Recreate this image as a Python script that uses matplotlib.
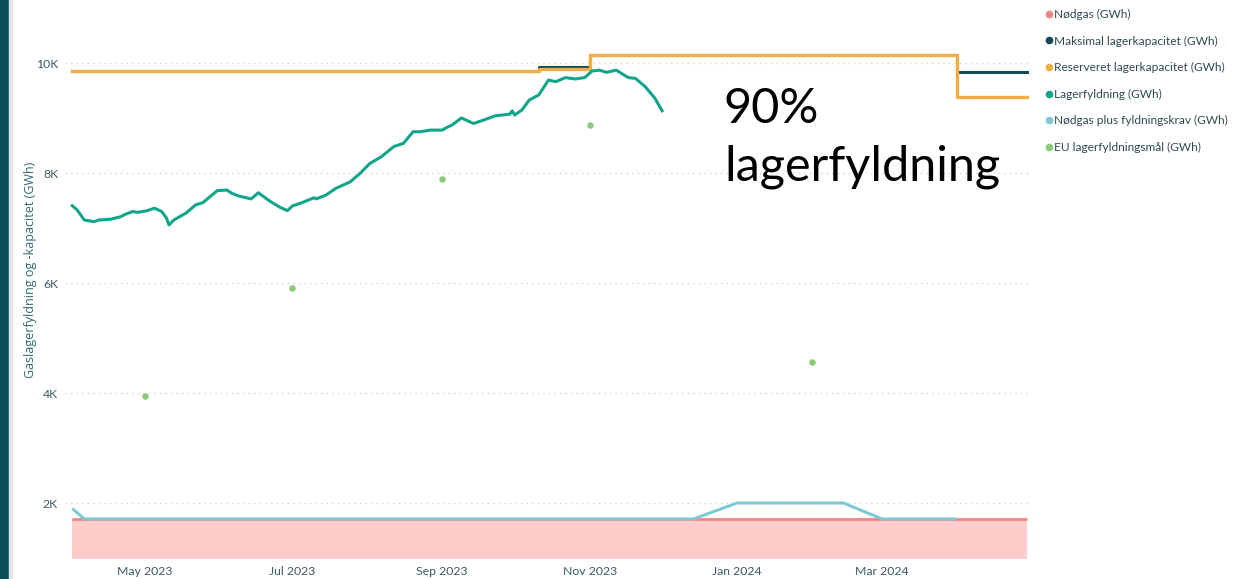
import matplotlib
matplotlib.use("Agg")
import matplotlib.pyplot as plt
import matplotlib.dates as mdates
from matplotlib.lines import Line2D
from matplotlib.patches import Rectangle
from matplotlib.ticker import FuncFormatter
import pandas as pd

# ---------------- data ----------------
fill_dates = ["2023-04-01", "2023-04-03", "2023-04-06", "2023-04-10", "2023-04-12", "2023-04-17",
              "2023-04-21", "2023-04-23", "2023-04-26", "2023-04-28", "2023-05-02", "2023-05-05",
              "2023-05-08", "2023-05-10", "2023-05-11", "2023-05-13", "2023-05-16", "2023-05-18",
              "2023-05-22", "2023-05-25", "2023-05-31", "2023-06-04", "2023-06-06", "2023-06-09",
              "2023-06-14", "2023-06-17", "2023-06-22", "2023-06-26", "2023-06-29", "2023-07-01",
              "2023-07-05", "2023-07-10", "2023-07-11", "2023-07-15", "2023-07-19", "2023-07-25",
              "2023-07-29", "2023-08-02", "2023-08-07", "2023-08-12", "2023-08-16", "2023-08-20",
              "2023-08-23", "2023-08-27", "2023-09-01", "2023-09-03", "2023-09-05", "2023-09-09",
              "2023-09-14", "2023-09-18", "2023-09-23", "2023-09-29", "2023-09-30", "2023-10-01",
              "2023-10-04", "2023-10-07", "2023-10-11", "2023-10-15", "2023-10-18", "2023-10-22",
              "2023-10-26", "2023-10-30", "2023-11-02", "2023-11-05", "2023-11-08", "2023-11-12",
              "2023-11-17", "2023-11-20", "2023-11-24", "2023-11-28", "2023-12-01"]
fill_values = [7405, 7330, 7145, 7115, 7145, 7160,
               7205, 7250, 7300, 7285, 7315, 7360,
               7300, 7180, 7055, 7145, 7220, 7270,
               7420, 7460, 7680, 7690, 7630, 7580,
               7530, 7640, 7480, 7375, 7315, 7400,
               7460, 7550, 7530, 7600, 7720, 7840,
               7990, 8170, 8300, 8480, 8540, 8750,
               8750, 8780, 8780, 8830, 8870, 9000,
               8900, 8960, 9040, 9070, 9130, 9055,
               9145, 9325, 9420, 9690, 9660, 9735,
               9710, 9735, 9855, 9870, 9830, 9870,
               9735, 9720, 9570, 9360, 9130]

cap_dates = ["2023-04-01", "2023-10-11", "2023-11-01", "2024-04-01", "2024-04-30"]
max_cap_values = [9860, 9930, 10150, 9840, 9840]
res_cap_values = [9860, 9900, 10150, 9380, 9380]

emerg_dates = ["2023-04-01", "2024-04-30"]
emerg_values = [1710, 1710]

plus_dates = ["2023-04-01", "2023-04-06", "2023-12-14", "2024-01-01", "2024-02-14", "2024-03-01", "2024-04-01"]
plus_values = [1900, 1710, 1710, 2000, 2000, 1710, 1710]

eu_dates = ["2023-05-01", "2023-07-01", "2023-09-01", "2023-11-01", "2024-02-01"]
eu_values = [3950, 5910, 7890, 8870, 4560]

legend_labels = ["Nødgas (GWh)", "Maksimal lagerkapacitet (GWh)", "Reserveret lagerkapacitet (GWh)",
                 "Lagerfyldning (GWh)", "Nødgas plus fyldningskrav (GWh)", "EU lagerfyldningsmål (GWh)"]
y_ticks = [2000, 4000, 6000, 8000, 10000]
x_tick_dates = ["2023-05-01", "2023-07-01", "2023-09-01", "2023-11-01", "2024-01-01", "2024-03-01"]
y_label = "Gaslagerfyldning og -kapacitet (GWh)"
annotation = "90%\nlagerfyldning"

# ---------------- style ----------------
c_emerg_fill = "#FFCCCC"
c_emerg = "#F08585"
c_max = "#114B57"
c_res = "#F2AE45"
c_fill = "#12A58A"
c_plus = "#7FC9D4"
c_eu = "#8CC97A"
c_tick = "#3D5A60"

plt.rcParams['font.family'] = ['Lato', 'DejaVu Sans']

fig = plt.figure(figsize=(12.34, 5.79), dpi=100)
W, H = 1234, 579
ax = fig.add_axes([65 / W, 1 - 558 / H, (1032 - 65) / W, (558 - 35.5) / H])

to_dt = lambda s: pd.to_datetime(s)

ed = to_dt(emerg_dates)
ax.fill_between(ed, 0, emerg_values, color=c_emerg_fill, linewidth=0, zorder=1)
ax.plot(ed, emerg_values, color=c_emerg, lw=2.0, zorder=2, solid_capstyle='butt')
ax.plot(to_dt(plus_dates), plus_values, color=c_plus, lw=2.2, zorder=3, solid_capstyle='butt')
cd = to_dt(cap_dates)
ax.plot(cd, max_cap_values, color=c_max, lw=2.2, drawstyle='steps-post', zorder=4)
ax.plot(cd, res_cap_values, color=c_res, lw=2.4, drawstyle='steps-post', zorder=5)
ax.plot(to_dt(fill_dates), fill_values, color=c_fill, lw=2.2, zorder=6)
ax.scatter(to_dt(eu_dates), eu_values, s=22, color=c_eu, zorder=7, linewidths=0)

ax.set_ylim(1000, 10500)
ax.set_xlim(to_dt("2023-03-29"), to_dt("2024-05-02"))
ax.set_yticks(y_ticks)
ax.yaxis.set_major_formatter(FuncFormatter(lambda v, p: f"{int(v/1000)}K"))
ax.set_xticks(to_dt(x_tick_dates))
ax.xaxis.set_major_formatter(mdates.DateFormatter("%b %Y"))
ax.tick_params(axis='both', length=0, labelsize=8.8, colors=c_tick)
ax.tick_params(axis='y', pad=5)
ax.tick_params(axis='x', pad=6)
for s in ax.spines.values():
    s.set_visible(False)
ax.grid(axis='y', color="#D5D5D5", linestyle=(0, (1, 3)), linewidth=1.0)
ax.set_axisbelow(True)

fig.text(31 / W, 1 - 270 / H, y_label, rotation=90, ha='center', va='center',
         fontsize=9, color="#2F6770", family=['Open Sans', 'DejaVu Sans'])

fig.text(724 / W, 1 - 87 / H, annotation, ha='left', va='top', fontsize=35,
         color="black", linespacing=1.38)

# left decorative bar
fig.patches.append(Rectangle((0, 0), 9 / W, 1, transform=fig.transFigure, color="#0B4E5A", zorder=0))
fig.patches.append(Rectangle((9 / W, 0), 3 / W, 1, transform=fig.transFigure, color="#E6E6E6", zorder=0))

handles = [Line2D([], [], marker='o', linestyle='', color=c, markersize=4.5)
           for c in [c_emerg, c_max, c_res, c_fill, c_plus, c_eu]]
fig.legend(handles, legend_labels, loc='upper left', bbox_to_anchor=(1046 / W, 1 - 9 / H),
           frameon=False, fontsize=8.6, labelcolor="#2E4A50", handlelength=0.5,
           handletextpad=0.15, labelspacing=1.3, borderpad=0, borderaxespad=0)

fig.savefig("out.png", dpi=100)
